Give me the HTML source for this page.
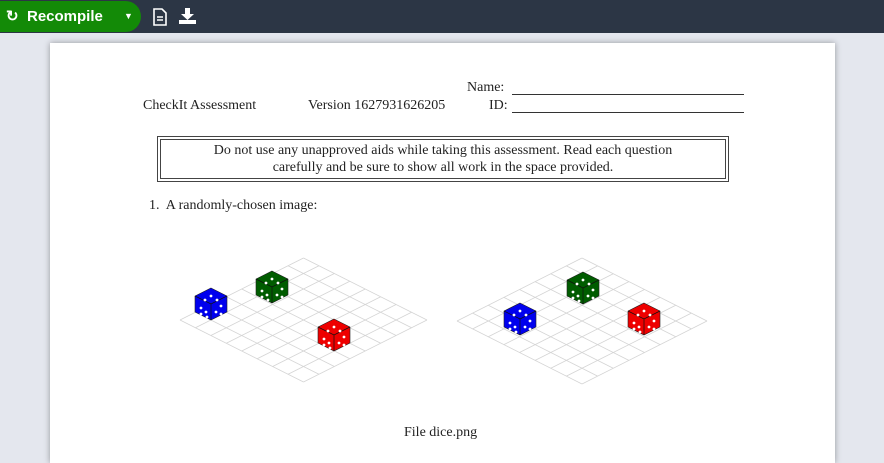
<!DOCTYPE html>
<html><head><meta charset="utf-8"><style>
body{margin:0;width:884px;height:457px;overflow:hidden;background:#e4e7ee;font-family:"Liberation Serif",serif;position:relative}
.t{position:absolute;font-size:14px;color:#222;white-space:nowrap}
</style></head><body>
<div style="position:absolute;left:0;top:0;width:884px;height:33px;background:#2c3645"></div>
<div style="position:absolute;left:0;top:1px;width:141px;height:31px;background:#138a07;border-radius:0 16px 16px 0;color:#fff;font:bold 15px 'Liberation Sans',sans-serif;line-height:31px">
<span style="position:absolute;left:6px;font-size:15px">&#x21bb;</span><span style="position:absolute;left:27px">Recompile</span><span style="position:absolute;left:124px;font-size:9px">&#9660;</span></div>
<svg style="position:absolute;left:153px;top:8px" width="14" height="18"><path d="M1 1h8l4 4v12H1z" fill="none" stroke="#fff" stroke-width="1.6"/><path d="M4 9h6M4 12h6" stroke="#fff" stroke-width="1.5"/></svg>
<svg style="position:absolute;left:179px;top:8px" width="17" height="16"><path d="M6 0h5v6h4l-6.5 6L2 6h4z" fill="#fff"/><path d="M0 12h17v4H0z" fill="#fff"/></svg>
<div style="position:absolute;left:50px;top:43px;width:785px;height:420px;background:#fff;box-shadow:0 0 6px rgba(0,0,0,.35)"></div>
<div class="t" style="left:467px;top:80px">Name:</div>
<div style="position:absolute;left:512px;top:94px;width:232px;border-top:1px solid #333"></div>
<div class="t" style="left:143px;top:98px">CheckIt Assessment</div>
<div class="t" style="left:308px;top:98px">Version 1627931626205</div>
<div class="t" style="left:489px;top:98px">ID:</div>
<div style="position:absolute;left:512px;top:112px;width:232px;border-top:1px solid #333"></div>
<div style="position:absolute;left:157px;top:136px;width:570px;height:44px;border:1px solid #444"><div style="position:absolute;left:2px;top:2px;right:2px;bottom:2px;border:1px solid #444"></div>
<div class="t" style="position:absolute;left:0;right:0;top:5px;text-align:center;line-height:17px;white-space:normal">Do not use any unapproved aids while taking this assessment. Read each question<br>carefully and be sure to show all work in the space provided.</div></div>
<div class="t" style="left:149px;top:198px">1.&nbsp; A randomly-chosen image:</div>
<div class="t" style="left:404px;top:425px">File dice.png</div>
<svg id="s" style="position:absolute;left:0;top:0" width="884" height="457"></svg>
<script>
const boards=[[180,258,427,382],[457,258,707,384]];
const diceX=[211,272,334,520,583,644];
const diceY=[304,287,335,319,288,319];
const diceColors=['#0000ee','#005c00','#ee0000','#0000ee','#005c00','#ee0000'];
const N=8;
const s=document.getElementById('s');const ns='http://www.w3.org/2000/svg';
function mk(t,a){const e=document.createElementNS(ns,t);for(const k in a)e.setAttribute(k,a[k]);s.appendChild(e);return e;}
boards.forEach(b=>{const cx=(b[0]+b[2])/2,cy=(b[1]+b[3])/2,L=[b[0],cy],T=[cx,b[1]],R=[b[2],cy],B=[cx,b[3]];
for(let i=0;i<=N;i++){const f=i/N;
let l=mk('line',{x1:L[0]+(T[0]-L[0])*f,y1:L[1]+(T[1]-L[1])*f,x2:B[0]+(R[0]-B[0])*f,y2:B[1]+(R[1]-B[1])*f,stroke:'#d4d4d4','stroke-width':0.8});


let m=mk('line',{x1:L[0]+(B[0]-L[0])*f,y1:L[1]+(B[1]-L[1])*f,x2:T[0]+(R[0]-T[0])*f,y2:T[1]+(R[1]-T[1])*f,stroke:'#d4d4d4','stroke-width':0.8});

}});
diceX.forEach((x,i)=>{const y=diceY[i],c=diceColors[i],w=16,h=8;
const p=mk('polygon',{points:`${x},${y-2*h} ${x+w},${y-h} ${x+w},${y+h} ${x},${y+2*h} ${x-w},${y+h} ${x-w},${y-h}`,fill:c,stroke:'#222','stroke-width':0.6});


mk('path',{d:`M${x-w} ${y-h}L${x} ${y}L${x+w} ${y-h}M${x} ${y}V${y+2*h}`,stroke:'#111','stroke-width':0.7,fill:'none'});
[[0,-8],[-6,-4],[6,-4],[-10,4],[-5,8],[-10,10],[-4,13],[10,2],[5,8],[10,10]].forEach(d=>mk('circle',{cx:x+d[0],cy:y+d[1],r:1.4,fill:'#fff'}));});
</script>
</body></html>
